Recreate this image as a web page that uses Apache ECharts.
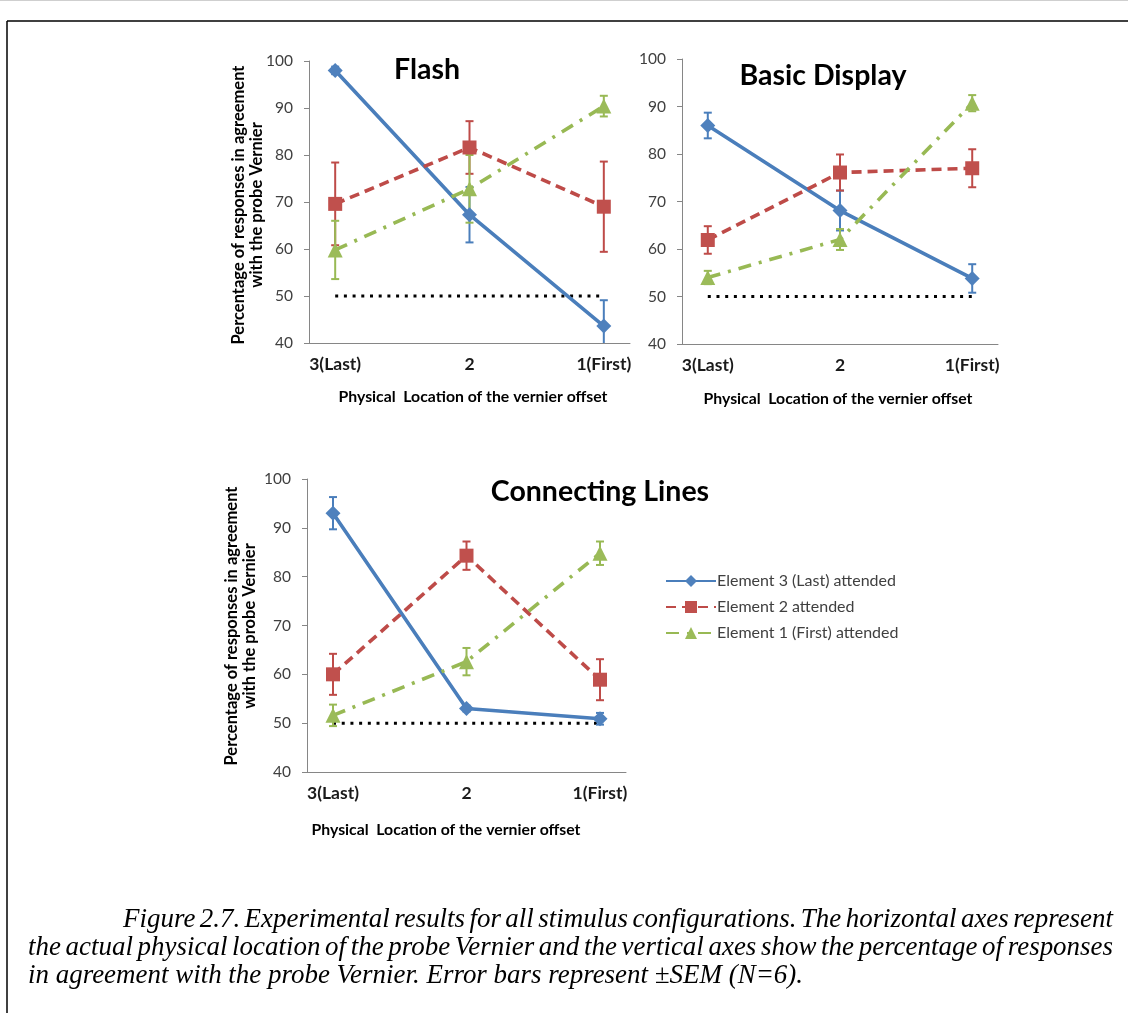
<!DOCTYPE html>
<html>
<head>
<meta charset="utf-8">
<script src="https://cdn.jsdelivr.net/npm/echarts@6/dist/echarts.min.js"></script>
<style>
  html, body { margin: 0; padding: 0; background: #ffffff; }
  #chart { width: 1128px; height: 1013px; }
</style>
</head>
<body>
<div id="chart"></div>
<script>
// Probe location categories (x) and attended-element series
const categories = ['3(Last)', '2', '1(First)'];
const seriesNames = ['Element 3 (Last) attended', 'Element 2 attended', 'Element 1 (First) attended'];
const panelTitles = ['Flash', 'Basic Display', 'Connecting Lines'];
const yTickMin = 40;
const yTickMax = 100;
const yTickStep = 10;
const chanceLevel = 50;

// Flash: mean % agreement and SEM per location
const flashMean3 = [98.0, 67.3, 43.6];
const flashSem3  = [0.8, 5.9, 5.5];
const flashMean2 = [69.6, 81.6, 69.0];
const flashSem2  = [8.8, 5.6, 9.6];
const flashMean1 = [59.8, 72.8, 90.4];
const flashSem1  = [6.2, 7.2, 2.2];

// Basic Display
const basicMean3 = [86.0, 68.1, 53.8];
const basicSem3  = [2.7, 4.2, 3.0];
const basicMean2 = [61.9, 76.1, 77.0];
const basicSem2  = [2.9, 3.8, 4.0];
const basicMean1 = [54.0, 62.0, 90.7];
const basicSem1  = [1.4, 2.2, 1.7];

// Connecting Lines
const connMean3 = [93.0, 53.0, 50.9];
const connSem3  = [3.3, 0.6, 1.2];
const connMean2 = [60.0, 84.3, 58.9];
const connSem2  = [4.2, 2.9, 4.2];
const connMean1 = [51.6, 62.6, 84.8];
const connSem1  = [2.2, 2.8, 2.4];

const captionLines = [
  'Figure 2.7. Experimental results for all stimulus configurations. The horizontal axes represent',
  'the actual physical location of the probe Vernier and the vertical axes show the percentage of responses',
  'in agreement with the probe Vernier. Error bars represent \u00B1SEM (N=6).'
];

const panels = [
  { means: [flashMean3, flashMean2, flashMean1], sems: [flashSem3, flashSem2, flashSem1] },
  { means: [basicMean3, basicMean2, basicMean1], sems: [basicSem3, basicSem2, basicSem1] },
  { means: [connMean3, connMean2, connMean1], sems: [connSem3, connSem2, connSem1] }
];

const lineColors   = ['#4A7EBB', '#BE4B48', '#98B954'];
const markerColors = ['#4F81BD', '#C0504D', '#9BBB59'];
const symbols      = ['diamond', 'rect', 'triangle'];
const symbolSizes  = [15, 14, 15];
const dashTypes    = ['solid', [10, 6], [13, 8, 3, 8]];

const uiFont = 'Lato, "Open Sans", sans-serif';
const axisGray = '#868686';
const textDark = '#404040';

const gridBoxes = [
  { left: 309, top: 61, width: 321, height: 282 },
  { left: 682, top: 59, width: 316, height: 285 },
  { left: 307, top: 479, width: 319, height: 293 }
];

const grids = [], xAxes = [], yAxes = [], series = [];

gridBoxes.forEach((g, gi) => {
  grids.push(Object.assign({ containLabel: false }, g));
  xAxes.push({
    type: 'value', gridIndex: gi, min: -0.195, max: 2.195,
    axisLine: { show: true, onZero: false, lineStyle: { color: axisGray, width: 1 } },
    axisTick: { show: false },
    splitLine: { show: false },
    axisLabel: {
      customValues: [0, 1, 2],
      formatter: v => categories[Math.round(v)],
      fontFamily: uiFont, fontWeight: 'bold', fontSize: 17.5, color: '#1a1a1a', margin: 12
    }
  });
  yAxes.push({
    type: 'value', gridIndex: gi, min: yTickMin, max: yTickMax, interval: yTickStep,
    axisLine: { show: true, onZero: false, lineStyle: { color: axisGray, width: 1 } },
    axisTick: { show: true, inside: false, length: 5, lineStyle: { color: axisGray } },
    splitLine: { show: false },
    axisLabel: { fontFamily: uiFont, fontSize: 15.5, color: textDark, margin: 16 }
  });

  // chance level reference line
  series.push({
    type: 'line', xAxisIndex: gi, yAxisIndex: gi, silent: true, symbol: 'none',
    data: [[0, chanceLevel], [2, chanceLevel]],
    lineStyle: { color: '#000000', width: 3, type: [3, 5.7] }, z: 1
  });

  const p = panels[gi];
  for (let s = 0; s < 3; s++) {
    const errData = p.means[s].map((m, i) => [i, m, p.sems[s][i]]);
    series.push({
      type: 'custom', xAxisIndex: gi, yAxisIndex: gi, silent: true, z: 2,
      encode: { x: 0, y: 1 },
      data: errData,
      renderItem: (params, api) => {
        const x = api.value(0), m = api.value(1), e = api.value(2);
        const hi = Math.min(m + e, yTickMax), lo = Math.max(m - e, yTickMin);
        const t = api.coord([x, hi]), b = api.coord([x, lo]);
        const cap = 4;
        const st = { stroke: lineColors[s], lineWidth: 2 };
        const kids = [{ type: 'line', shape: { x1: t[0], y1: t[1], x2: b[0], y2: b[1] }, style: st }];
        if (m + e <= yTickMax) kids.push({ type: 'line', shape: { x1: t[0] - cap, y1: t[1], x2: t[0] + cap, y2: t[1] }, style: st });
        if (m - e >= yTickMin) kids.push({ type: 'line', shape: { x1: b[0] - cap, y1: b[1], x2: b[0] + cap, y2: b[1] }, style: st });
        return { type: 'group', children: kids };
      }
    });
  }
  for (let s = 0; s < 3; s++) {
    series.push({
      name: seriesNames[s],
      type: 'line', xAxisIndex: gi, yAxisIndex: gi, z: 3,
      data: p.means[s].map((m, i) => [i, m]),
      symbol: symbols[s], symbolSize: symbolSizes[s],
      itemStyle: { color: markerColors[s], borderWidth: 0 },
      lineStyle: { color: lineColors[s], width: 3.6, type: dashTypes[s], cap: 'butt' },
      emphasis: { disabled: true }
    });
  }
});

// caption text: measured with the same font so the justified lines can be spread word by word
const capFont = 'italic 27px "Liberation Serif"';
const mctx = document.createElement('canvas').getContext('2d');
mctx.font = capFont;
const natural3 = mctx.measureText(captionLines[2]).width;
const capScale = 775 / natural3;
const capSpecs = [
  { x0: 123, x1: 1113, y: 933, justify: true },
  { x0: 28, x1: 1113, y: 961, justify: true },
  { x0: 28, x1: null, y: 989, justify: false }
];
const captionGraphics = [];
captionLines.forEach((line, li) => {
  const spec = capSpecs[li];
  const words = line.split(' ');
  const widths = words.map(w => mctx.measureText(w).width * capScale);
  const sum = widths.reduce((a, b) => a + b, 0);
  const gap = spec.justify ? (spec.x1 - spec.x0 - sum) / (words.length - 1)
                           : mctx.measureText(' ').width * capScale;
  let x = spec.x0;
  words.forEach((w, wi) => {
    captionGraphics.push({
      type: 'text', x: x, y: spec.y, scaleX: capScale, silent: true,
      style: { text: w, font: capFont, fill: '#000000', textAlign: 'left', textVerticalAlign: 'bottom' }
    });
    x += widths[wi] + gap;
  });
});

function label(text, x, y, size, weight, extra) {
  return Object.assign({
    type: 'text', x: x, y: y, silent: true,
    style: {
      text: text, fontFamily: uiFont, fontSize: size, fontWeight: weight,
      fill: '#000000', textAlign: 'center', textVerticalAlign: 'middle', lineHeight: size * 1.2
    }
  }, extra || {});
}

const yTitle = 'Percentage of responses in agreement\nwith the probe Vernier';
const xTitle = 'Physical  Location of the vernier offset';

const graphics = [
  // page frame
  { type: 'line', silent: true, shape: { x1: 0, y1: 0.5, x2: 1128, y2: 0.5 }, style: { stroke: '#cfcfcf', lineWidth: 1 } },
  { type: 'line', silent: true, shape: { x1: 7, y1: 21, x2: 1128, y2: 21 }, style: { stroke: '#000000', lineWidth: 1.5 } },
  { type: 'line', silent: true, shape: { x1: 7, y1: 21, x2: 7, y2: 1013 }, style: { stroke: '#000000', lineWidth: 1.5 } },
  label(panelTitles[0], 427, 70, 28.5, 'bold'),
  label(panelTitles[1], 823, 76, 28.5, 'bold'),
  label(panelTitles[2], 600, 492, 28.5, 'bold'),
  label(xTitle, 473, 397, 15.8, 'bold'),
  label(xTitle, 838, 399, 15.8, 'bold'),
  label(xTitle, 446, 830, 15.8, 'bold'),
  label(yTitle, 248, 205, 16.5, 'bold', { rotation: Math.PI / 2 }),
  label(yTitle, 241, 626, 16.5, 'bold', { rotation: Math.PI / 2 })
].concat(captionGraphics);
// rotated two-line titles: lines sit about 18px apart
graphics.forEach(g => { if (g.style && g.style.text === yTitle) g.style.lineHeight = 18; });

const chart = echarts.init(document.getElementById('chart'), null, { renderer: 'canvas' });
chart.setOption({
  backgroundColor: '#ffffff',
  animation: false,
  grid: grids,
  xAxis: xAxes,
  yAxis: yAxes,
  legend: {
    data: seriesNames,
    orient: 'vertical',
    left: 660, top: 568,
    itemWidth: 50, itemHeight: 15, itemGap: 10,
    textStyle: { fontFamily: uiFont, fontSize: 16, color: textDark, padding: [0, 0, 0, -4] },
    selectedMode: false
  },
  series: series,
  graphic: graphics
});
</script>
</body>
</html>
